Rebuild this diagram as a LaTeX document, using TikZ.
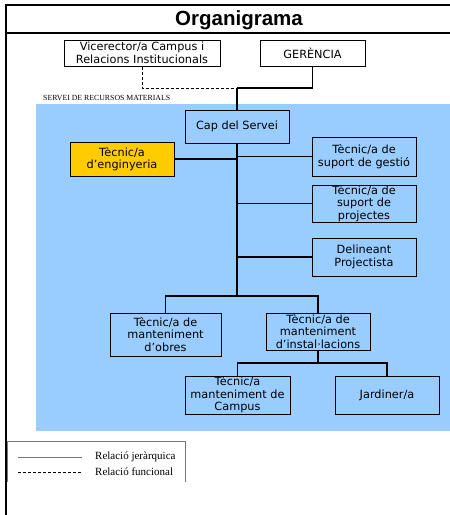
\documentclass[tikz,border=0pt]{standalone}
\usepackage{fontspec}
\setmainfont{DejaVu Sans}
\newfontfamily\titlefont{Liberation Sans}
\newfontfamily\seriffont{Liberation Serif}
\definecolor{areablue}{HTML}{99CCFF}
\definecolor{highlight}{HTML}{FFCC00}
\definecolor{legendgray}{HTML}{777777}
\begin{document}
\begin{tikzpicture}[x=1pt,y=-1pt,
  orgbox/.style={draw, line width=1pt, align=center, inner sep=0pt,
    fill=areablue, font=\fontsize{11.3}{12.5}\selectfont},
  topbox/.style={orgbox, fill=white},
  link/.style={line width=1.3pt},
  funclink/.style={line width=0.8pt, dash pattern=on 3pt off 2pt},
  frameline/.style={line width=2.3pt}]
\useasboundingbox (0,0) rectangle (450,515);

% outer frame and title bar
\draw[frameline] (6,515) -- (6,5) -- (450,5);
\draw[frameline] (6,33) -- (450,33);
\node[font=\titlefont\bfseries\fontsize{20.5}{23}\selectfont] (title) at (239,20) {Organigrama};

% shaded area of the service
\fill[areablue] (36,104) rectangle (450,431);
\node[anchor=west, inner sep=0pt, font=\seriffont\fontsize{7.8}{8}\selectfont] (servei) at (43,97.5) {SERVEI DE RECURSOS MATERIALS};

% upper authorities
\node[topbox, minimum width=156, minimum height=26] (vic) at (142,53) {Vicerector/a Campus i\\Relacions Institucionals};
\node[topbox, minimum width=105, minimum height=26] (ger) at (312.5,53) {GERÈNCIA};

% positions inside the service
\node[orgbox, minimum width=104, minimum height=33] (cap) at (237,126.5) {Cap del Servei};
\node[orgbox, fill=highlight, minimum width=104, minimum height=34] (eng) at (122,159) {Tècnic/a\\d’enginyeria};
\node[orgbox, minimum width=104, minimum height=39] (ges) at (364,156.5) {Tècnic/a de\\suport de gestió};
\node[orgbox, minimum width=104, minimum height=37] (proj) at (364,203.5) {Tècnic/a de\\suport de\\projectes};
\node[orgbox, minimum width=104, minimum height=38] (del) at (364,257) {Delineant\\Projectista};
\node[orgbox, minimum width=111, minimum height=43] (obr) at (165.5,334.5) {Tècnic/a de\\manteniment\\d’obres};
\node[orgbox, minimum width=104, minimum height=37] (ins) at (318,331.5) {Tècnic/a de\\manteniment\\d’instal·lacions};
\node[orgbox, minimum width=105, minimum height=38] (cmp) at (237.5,395) {Tècnic/a\\manteniment de\\Campus};
\node[orgbox, minimum width=104, minimum height=38] (jar) at (387,395) {Jardiner/a};

% junction points
\coordinate (j) at (237,88);
\coordinate (t) at (237,296);
\coordinate (b) at (318,363);

% connectors
\draw[funclink] (vic.south) |- (j);
\draw[link] (ger.south) |- (j);
\draw[link] (j) -- (cap.north);
\draw[link] (cap.south) -- (t);
\draw[link] (eng.east) -- (eng.east -| cap.south);
\draw[link] (ges.west) -- (ges.west -| cap.south);
\draw[link] (proj.west) -- (proj.west -| cap.south);
\draw[link] (del.west) -- (del.west -| cap.south);
\draw[link] (t) -| (obr.north);
\draw[link] (t) -| (ins.north);
\draw[link] (ins.south) -- (b);
\draw[link] (b) -| (cmp.north);
\draw[link] (b) -| (jar.north);

% legend
\draw[legendgray, line width=0.9pt] (7,482) -- (7,441) -- (185,441) -- (185,482);
\draw[legendgray, line width=1pt] (18,457) -- (82,457);
\draw[line width=0.7pt, dash pattern=on 2.5pt off 2.5pt] (18,472) -- (82,472);
\node[anchor=west, inner sep=0pt, font=\seriffont\fontsize{11}{12}\selectfont] (ljer) at (95,457) {Relació jeràrquica};
\node[anchor=west, inner sep=0pt, font=\seriffont\fontsize{11}{12}\selectfont] (lfun) at (95,472) {Relació funcional};
\end{tikzpicture}
\end{document}
